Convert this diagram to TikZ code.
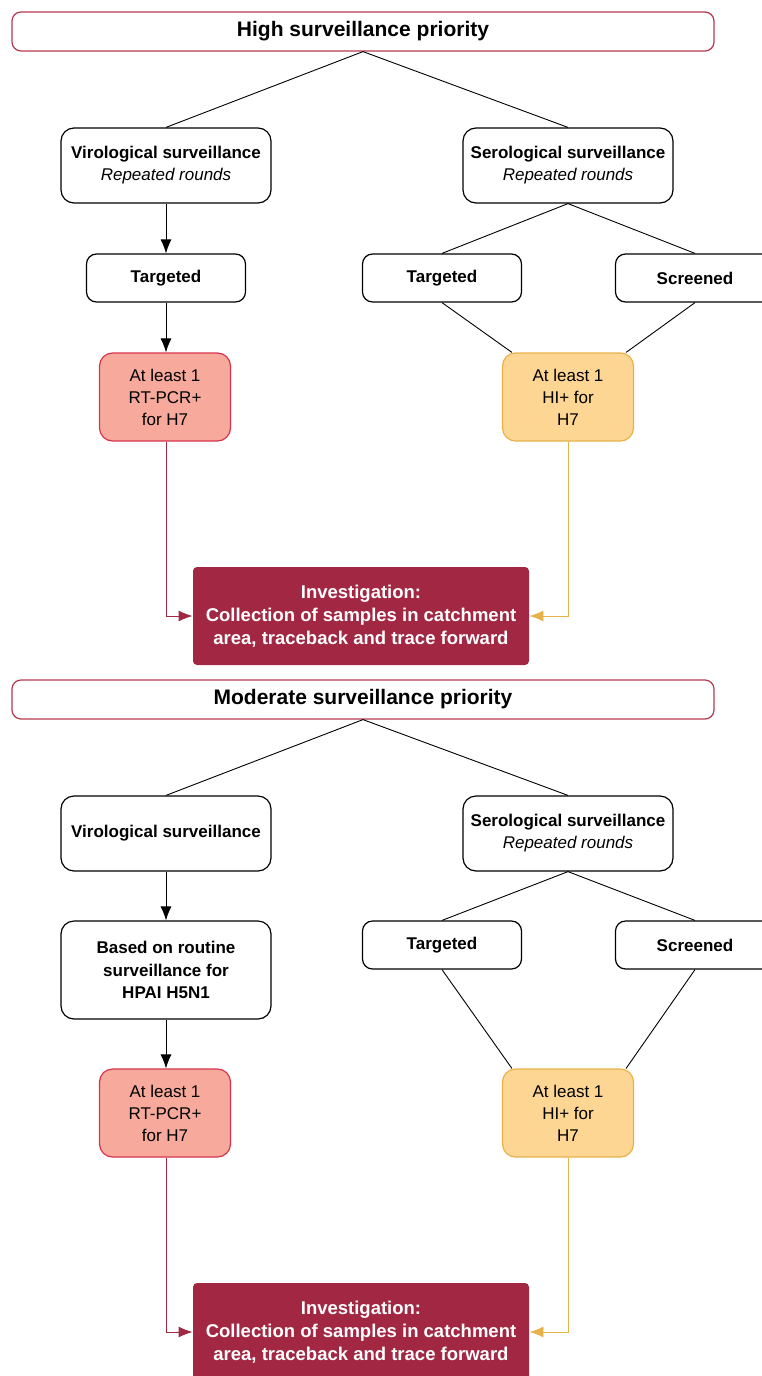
\documentclass[tikz,border=0pt]{standalone}
\usepackage{fontspec}
\setmainfont{Liberation Sans}
\usetikzlibrary{arrows.meta}
\definecolor{wine}{HTML}{A22743}
\definecolor{redline}{HTML}{D6344E}
\definecolor{salmon}{HTML}{F7AA9B}
\definecolor{amber}{HTML}{E8B24A}
\definecolor{peach}{HTML}{FED694}
\definecolor{rimred}{HTML}{B3394F}
\begin{document}
\begin{tikzpicture}[x=1pt, y=-1pt, >={Latex[length=14pt,width=11pt]}, line width=0.9pt,
  title/.style={draw=rimred, line width=1.2pt, rounded corners=9pt, minimum width=702pt, minimum height=39pt, inner sep=0pt, font=\fontsize{21}{24}\selectfont\bfseries},
  box/.style={draw, line width=1.2pt, rounded corners=13pt, inner sep=0pt, align=center, font=\fontsize{17}{22}\selectfont},
  wide/.style={box, minimum width=210pt, minimum height=75pt},
  small/.style={box, rounded corners=10pt, minimum width=159pt, minimum height=48pt, font=\fontsize{17}{22}\selectfont\bfseries},
  pcr/.style={box, draw=redline, fill=salmon, minimum width=131pt, minimum height=88pt},
  hi/.style={box, draw=amber, fill=peach, minimum width=131pt, minimum height=88pt},
  invest/.style={fill=wine, text=white, rounded corners=4pt, inner sep=0pt, minimum width=336pt, minimum height=98pt, align=center, font=\fontsize{18.5}{23}\selectfont\bfseries}]
\useasboundingbox (0,0) rectangle (761,1376);

% High surveillance priority
\node[title] (top1) at (363,31.5) {High surveillance priority};
\node[wide] (viro1) at (166,165.5) {\textbf{Virological surveillance}\\\textit{Repeated rounds}};
\node[wide] (sero1) at (568,165.5) {\textbf{Serological surveillance}\\\textit{Repeated rounds}};
\node[small] (tgt1) at (166,278) {Targeted};
\node[small] (stgt1) at (442,278) {Targeted};
\node[small] (scr1) at (695,278) {Screened};
\node[pcr] (pcr1) at (165,397) {At least 1\\RT-PCR+\\for H7};
\node[hi] (hi1) at (568,397) {At least 1\\HI+ for\\H7};
\node[invest] (inv1) at (361,616) {Investigation:\\Collection of samples in catchment\\area, traceback and trace forward};

\draw (top1.south) -- (viro1.north);
\draw (top1.south) -- (sero1.north);
\draw[->] (viro1) -- (tgt1);
\draw[->] (tgt1.south) -- (tgt1.south |- pcr1.north);
\draw (sero1.south) -- (stgt1.north);
\draw (sero1.south) -- (scr1.north);
\draw (stgt1.south) -- ([xshift=10pt]hi1.north west);
\draw (scr1.south) -- ([xshift=-8pt]hi1.north east);
\draw[->, wine] ([xshift=1pt]pcr1.south) |- (inv1.west);
\draw[->, amber] (hi1.south) |- (inv1.east);

% Moderate surveillance priority
\node[title] (top2) at (363,699.5) {Moderate surveillance priority};
\node[wide] (viro2) at (166,833.5) {\textbf{Virological surveillance}};
\node[wide] (sero2) at (568,833.5) {\textbf{Serological surveillance}\\\textit{Repeated rounds}};
\node[wide, minimum height=98pt, font=\fontsize{17}{22.5}\selectfont\bfseries] (routine2) at (166,970) {Based on routine\\surveillance for\\HPAI H5N1};
\node[small] (stgt2) at (442,945) {Targeted};
\node[small] (scr2) at (695,945) {Screened};
\node[pcr] (pcr2) at (165,1113) {At least 1\\RT-PCR+\\for H7};
\node[hi] (hi2) at (568,1113) {At least 1\\HI+ for\\H7};
\node[invest] (inv2) at (361,1332) {Investigation:\\Collection of samples in catchment\\area, traceback and trace forward};

\draw (top2.south) -- (viro2.north);
\draw (top2.south) -- (sero2.north);
\draw[->] (viro2) -- (routine2);
\draw[->] (routine2.south) -- (routine2.south |- pcr2.north);
\draw (sero2.south) -- (stgt2.north);
\draw (sero2.south) -- (scr2.north);
\draw (stgt2.south) -- ([xshift=10pt]hi2.north west);
\draw (scr2.south) -- ([xshift=-8pt]hi2.north east);
\draw[->, wine] ([xshift=1pt]pcr2.south) |- (inv2.west);
\draw[->, amber] (hi2.south) |- (inv2.east);
\end{tikzpicture}
\end{document}
